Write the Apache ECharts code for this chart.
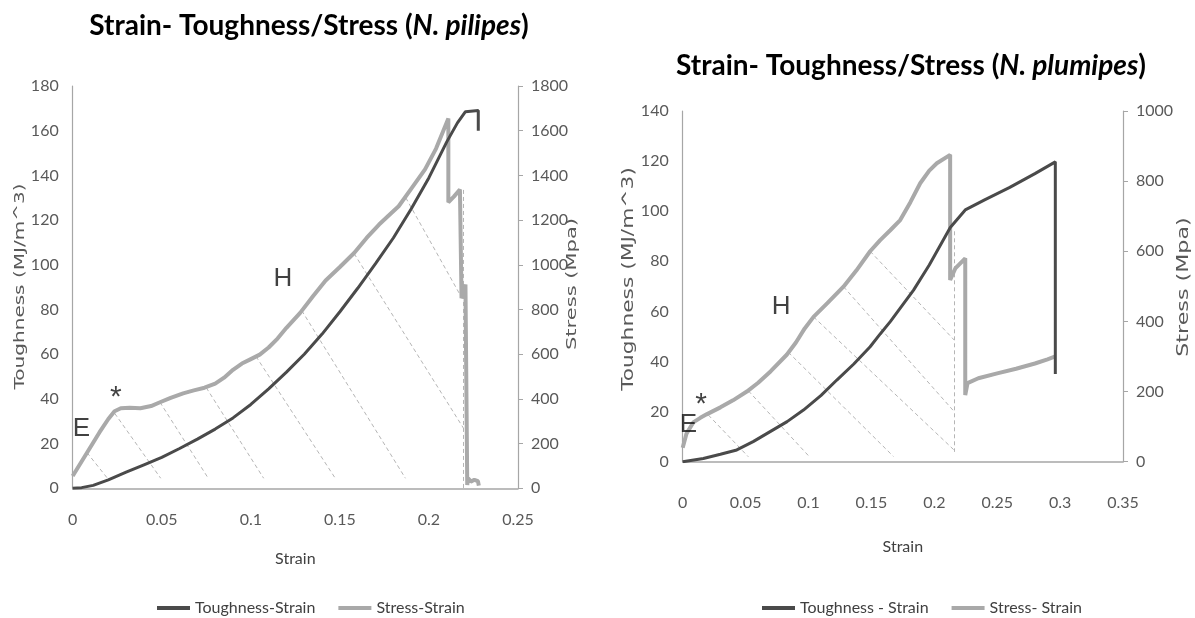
<!DOCTYPE html>
<html><head><meta charset="utf-8">
<script src="https://cdn.jsdelivr.net/npm/echarts@6/dist/echarts.min.js"></script>
<style>html,body{margin:0;padding:0;background:#fff}#c{width:1195px;height:618px}</style>
</head><body><div id="c"></div>
<script>
// ---------- N. pilipes (left chart) ----------
const pilTitle = ['Strain- Toughness/Stress (', 'N. pilipes', ')'];
const pilLegend = ['Toughness-Strain', 'Stress-Strain'];
const pilStrainRange = [0, 0.25, 0.05];
const pilToughRange = [0, 180, 20];
const pilStressRange = [0, 1800, 200];
const pilToughness = [[0,0],[0.005,0.3],[0.0115,1.3],[0.02,3.8],[0.03,7.2],[0.04,10.5],[0.05,13.8],[0.06,17.8],[0.07,22],[0.08,26.5],[0.09,31.5],[0.1,37.5],[0.11,44.5],[0.12,52],[0.13,60],[0.14,69],[0.15,79],[0.16,89.5],[0.17,100.5],[0.18,112],[0.19,125],[0.2,139],[0.21,155],[0.216,163.5],[0.2205,168.5],[0.2277,169],[0.2277,160]];
const pilStress = [[0,55],[0.005,120],[0.01,185],[0.015,250],[0.02,310],[0.0235,345],[0.027,358],[0.032,360],[0.038,358],[0.044,368],[0.049,385],[0.055,405],[0.062,425],[0.068,438],[0.074,450],[0.08,468],[0.085,495],[0.09,530],[0.095,558],[0.1,578],[0.105,598],[0.11,630],[0.115,670],[0.12,718],[0.1277,785],[0.135,860],[0.142,930],[0.15,990],[0.158,1053],[0.165,1120],[0.172,1180],[0.178,1225],[0.183,1262],[0.19,1340],[0.1978,1427],[0.204,1520],[0.2109,1655],[0.2109,1280],[0.214,1305],[0.2174,1337],[0.2183,850],[0.2205,912],[0.2215,905],[0.2215,15],[0.222,45],[0.2235,30],[0.2255,38],[0.2275,32],[0.228,12]];
// hatch lines: [strainStart, stressStart, strainEnd, stressEnd]
const pilHatch = [[0.008,160,0.0195,45],[0.0236,335,0.0494,45],[0.049,385,0.0761,45],[0.075,450,0.1072,45],[0.1029,590,0.1474,45],[0.1286,795,0.1868,45],[0.158,1050,0.2193,270],[0.187,1300,0.2193,840],[0.2193,1335,0.2193,0]];
// annotations: [text, strain, toughness]
const pilNotes = [['E',0.0049,26.6],['*',0.0242,43.7],['H',0.118,93.5]];

// ---------- N. plumipes (right chart) ----------
const pluTitle = ['Strain- Toughness/Stress (', 'N. plumipes', ')'];
const pluLegend = ['Toughness - Strain', 'Stress- Strain'];
const pluStrainRange = [0, 0.35, 0.05];
const pluToughRange = [0, 140, 20];
const pluStressRange = [0, 1000, 200];
const pluToughness = [[0,0],[0.0164,1.3],[0.03,3],[0.043,4.7],[0.056,8],[0.0695,12],[0.083,16],[0.096,20.6],[0.11,26.5],[0.1225,32.6],[0.136,39],[0.149,45.9],[0.157,51],[0.165,55.9],[0.1835,68.5],[0.196,78.5],[0.2127,93.5],[0.2246,100.5],[0.24,104.5],[0.26,109.5],[0.28,115],[0.2962,119.7],[0.2962,35]];
const pluStress = [[0,40],[0.003,80],[0.0084,112],[0.014,125],[0.019,135],[0.03,155],[0.04,175],[0.051,200],[0.06,225],[0.07,258],[0.0827,305],[0.09,340],[0.097,380],[0.104,413],[0.115,452],[0.1278,499],[0.138,545],[0.149,600],[0.157,632],[0.165,660],[0.1729,689],[0.181,740],[0.1888,794],[0.196,830],[0.202,851],[0.2126,875],[0.2126,518],[0.2167,551],[0.2246,580],[0.2246,190],[0.2264,224],[0.235,238],[0.25,252],[0.265,265],[0.28,280],[0.29,292],[0.2962,300]];
const pluHatch = [[0.0204,133,0.0522,14],[0.0522,202,0.1013,12],[0.084,312,0.1675,15],[0.104,413,0.2158,33],[0.1278,499,0.2158,143],[0.149,600,0.2158,347],[0.2158,657,0.2158,28]];
const pluNotes = [['E',0.0045,14.6],['*',0.0146,25.6],['H',0.0782,62]];

// ---------- build ----------
const TICKFONT = 'Lato';
const DARK = '#4a4a4a', LIGHT = '#a9a9a9', AXIS = '#a6a6a6', LBL = '#595959';

function titleOpt(parts, cx, top) {
  return {
    text: '{b|' + parts[0] + '}{i|' + parts[1] + '}{b|' + parts[2] + '}',
    left: cx, top: top, textAlign: 'center',
    textStyle: { rich: {
      b: { fontFamily: TICKFONT, fontWeight: 'bold', fontSize: 28, color: '#000' },
      i: { fontFamily: TICKFONT, fontWeight: 'bold', fontStyle: 'italic', fontSize: 28, color: '#000' }
    } }
  };
}
function legendOpt(names, left, top) {
  return {
    data: names, left: left, top: top, orient: 'horizontal',
    icon: 'rect', itemWidth: 33, itemHeight: 4, itemGap: 23,
    selectedMode: false,
    textStyle: { fontFamily: TICKFONT, fontSize: 16, color: '#404040' }
  };
}
function xAxisOpt(range, grid, margin, nameGap) {
  return {
    type: 'value', gridIndex: grid, min: range[0], max: range[1], interval: range[2],
    name: 'Strain', nameLocation: 'middle', nameGap: nameGap,
    nameTextStyle: { fontFamily: TICKFONT, fontSize: 16, color: '#404040' },
    axisLine: { show: true, lineStyle: { color: AXIS, width: 1.5 } },
    axisTick: { show: false }, splitLine: { show: false },
    axisLabel: { margin: margin, fontFamily: TICKFONT, fontSize: 16, color: LBL,
      formatter: v => String(+v.toFixed(4)) }
  };
}
function yAxisOpt(range, grid, pos) {
  return {
    type: 'value', gridIndex: grid, position: pos, min: range[0], max: range[1], interval: range[2],
    axisLine: { show: true, onZero: false, lineStyle: { color: AXIS, width: 1.2 } },
    axisTick: { show: pos === 'right', length: 5, lineStyle: { color: AXIS } },
    splitLine: { show: false },
    axisLabel: { margin: pos === 'right' ? 13 : 14, fontFamily: TICKFONT, fontSize: 16, color: LBL,
      formatter: v => String(v) }
  };
}
function hatchSeries(hatch, xi, yi) {
  return {
    type: 'lines', coordinateSystem: 'cartesian2d', xAxisIndex: xi, yAxisIndex: yi, z: 1,
    silent: true, symbol: 'none',
    lineStyle: { color: '#b5b5b5', width: 1, type: [4, 3], opacity: 1 },
    data: hatch.map(h => ({ coords: [[h[0], h[1]], [h[2], h[3]]] }))
  };
}
function curve(name, data, xi, yi, color, width, z) {
  return {
    name: name, type: 'line', xAxisIndex: xi, yAxisIndex: yi, data: data,
    showSymbol: false, symbol: 'none', z: z, smooth: false,
    itemStyle: { color: color }, lineStyle: { color: color, width: width }
  };
}
function noteSeries(notes, xi, yi) {
  return {
    type: 'scatter', xAxisIndex: xi, yAxisIndex: yi, z: 10, silent: true,
    symbolSize: 1, itemStyle: { color: 'rgba(0,0,0,0)' },
    data: notes.map(n => ({
      name: n[0], value: [n[1], n[2]],
      label: n[0] === '*' ? { offset: [0, 7], fontSize: 30 } : {}
    })),
    label: { show: true, position: 'inside', formatter: p => p.name,
      fontFamily: 'Liberation Sans', fontSize: 26, color: '#111', align: 'center', verticalAlign: 'middle' }
  };
}
function vName(text, x, y, size, sx) {
  return { type: 'text', x: x, y: y, rotation: Math.PI / 2, scaleX: sx, scaleY: 1, silent: true,
    style: { text: text, fontFamily: 'DejaVu Sans', fontSize: size, fill: LBL, align: 'center', verticalAlign: 'middle' } };
}

const option = {
  animation: false,
  backgroundColor: '#fff',
  title: [titleOpt(pilTitle, 304, 7), titleOpt(pluTitle, 906, 47)],
  legend: [legendOpt(pilLegend, 152, 595), legendOpt(pluLegend, 757, 595)],
  grid: [
    { left: 72.7, top: 86, width: 445.3, height: 402.3, outerBoundsMode: 'none' },
    { left: 682.7, top: 111, width: 440.3, height: 350.7, outerBoundsMode: 'none' }
  ],
  xAxis: [xAxisOpt(pilStrainRange, 0, 24, 63), xAxisOpt(pluStrainRange, 1, 33, 77)],
  yAxis: [
    yAxisOpt(pilToughRange, 0, 'left'), yAxisOpt(pilStressRange, 0, 'right'),
    yAxisOpt(pluToughRange, 1, 'left'), yAxisOpt(pluStressRange, 1, 'right')
  ],
  series: [
    hatchSeries(pilHatch, 0, 1),
    curve(pilLegend[1], pilStress, 0, 1, LIGHT, 4, 3),
    curve(pilLegend[0], pilToughness, 0, 0, DARK, 3, 4),
    noteSeries(pilNotes, 0, 0),
    hatchSeries(pluHatch, 1, 3),
    curve(pluLegend[1], pluStress, 1, 3, LIGHT, 4, 3),
    curve(pluLegend[0], pluToughness, 1, 2, DARK, 3, 4),
    noteSeries(pluNotes, 1, 2)
  ],
  graphic: [
    vName('Toughness (MJ/m^3)', 20, 286.5, 14, 1.43),
    vName('Stress (Mpa)', 572, 284, 14, 1.5),
    vName('Toughness (MJ/m^3)', 629, 279, 15, 1.45),
    vName('Stress (Mpa)', 1184.5, 287, 15, 1.48)
  ]
};
const chart = echarts.init(document.getElementById('c'));
chart.setOption(option);
</script></body></html>
